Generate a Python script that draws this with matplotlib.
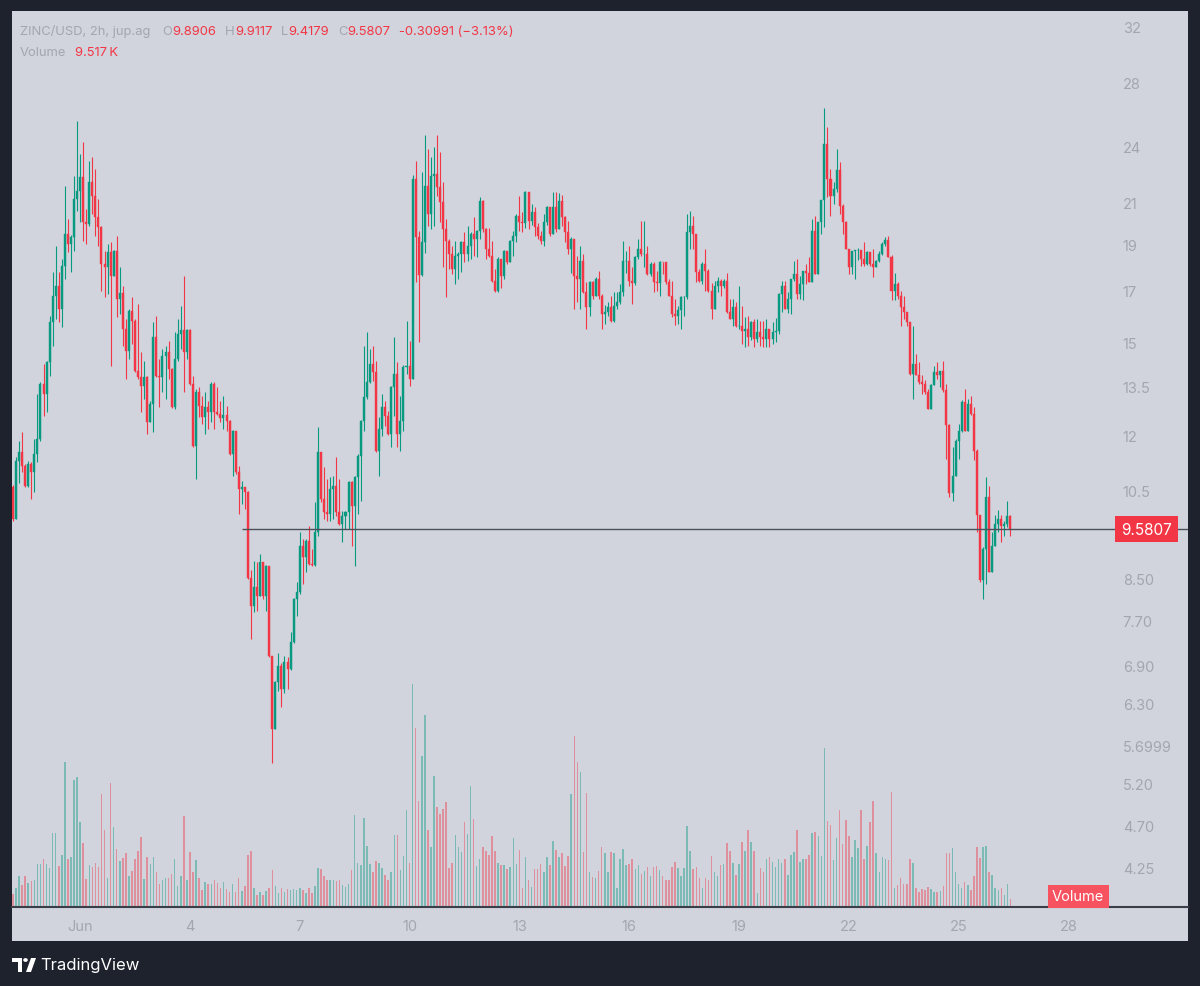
import numpy as np
import pandas as pd
import matplotlib.pyplot as plt
import matplotlib.transforms as mtransforms
from matplotlib.patches import Rectangle, Circle, Polygon
from matplotlib.ticker import NullLocator

plt.rcParams['font.family'] = ['Inter', 'DejaVu Sans']

# 2h candles, ZINC/USD (jup.ag)
first_open = 10.6
closes = [
    9.82, 11.29, 11.53, 11.16, 10.63, 11.2, 10.99, 11.48, 11.9, 13.58,
    13.26, 14.3, 15.76, 16.77, 17.18, 16.26, 18.03, 19.47, 19.01, 19.33,
    21.18, 21.58, 22.33, 20.03, 19.94, 22.06, 21.33, 20.28, 19.8, 18.1,
    17.98, 18.64, 17.6, 18.69, 16.65, 16.9, 15.5, 14.7, 16.18, 15.8,
    14.0, 13.82, 13.52, 13.82, 12.4, 12.95, 15.2, 13.85, 13.8, 14.52,
    14.66, 14.08, 12.85, 14.42, 15.3, 15.46, 14.66, 15.46, 13.58, 11.7,
    13.33, 12.88, 12.55, 12.85, 12.7, 13.58, 12.7, 12.64, 12.5, 12.6,
    12.43, 11.48, 12.13, 10.99, 10.55, 10.6, 10.47, 8.52,
    7.97, 8.34, 8.16, 8.86, 8.16, 8.76, 7.07, 5.93, 6.64, 6.9,
    6.53, 6.97, 6.85, 7.31, 8.1, 8.24, 9.2, 8.96, 9.3, 8.81,
    8.8, 9.52, 11.53, 10.3, 9.98, 9.94, 10.55, 10.63, 9.98, 9.7,
    9.89, 9.98, 10.73, 10.13, 10.86, 11.43, 12.43, 13.16, 13.65, 14.25,
    13.98, 11.56, 12.19, 12.85, 12.58, 12.04, 13.48, 13.91, 12.04, 12.43,
    14.15, 14.18, 13.75, 22.22,
    19.33, 17.64, 19.1, 21.85, 20.4, 22.38, 22.48, 21.8, 21.0, 19.7,
    19.15, 18.55, 17.9, 18.46, 18.55, 19.1, 18.55, 18.92, 19.47, 19.24,
    19.6, 21.08, 19.7, 18.78, 18.46, 17.4, 16.98, 18.33, 17.6, 18.69,
    18.2, 19.15, 19.38, 20.33, 20.03, 20.0, 21.53, 20.08, 20.52, 19.8,
    19.38, 19.15, 20.03, 20.77, 19.47, 20.77, 19.7, 21.08, 20.28, 19.56,
    18.78, 19.24, 17.6, 17.47, 18.25, 16.94, 16.33, 17.35, 16.77, 17.47,
    16.77, 16.07, 16.13, 16.33, 15.8, 16.37, 16.53, 16.94, 18.25, 18.25,
    17.4, 17.3, 18.42, 18.78, 18.55, 18.55, 17.68, 18.1, 17.35, 17.3,
    18.2, 18.18, 17.35, 16.77, 16.07, 15.99, 16.2, 16.73, 16.73, 19.56,
    19.85, 19.47, 17.77, 17.4, 18.1, 17.81, 16.98, 16.26, 17.18, 17.4,
    17.18, 17.4, 16.13, 15.87, 16.33, 15.6, 15.6, 15.43, 15.5, 15.2,
    15.76, 15.13, 15.39, 15.2, 15.13, 15.5, 15.13, 15.39, 15.4,
    16.86, 17.19, 16.26, 16.65, 17.47, 17.68, 16.86, 17.26, 17.81, 17.74,
    17.33, 19.62, 17.68, 20.01, 21.1, 24.16, 22.22, 21.34, 21.69, 22.67,
    20.84, 20.01, 18.78, 17.96, 18.7, 18.72, 18.75, 18.33, 18.1, 18.63,
    18.1, 17.96, 18.25, 18.55, 19.01, 19.2, 18.4, 16.98, 17.26, 16.79,
    16.33, 16.13, 15.74, 13.91, 14.25, 13.86, 13.64, 13.58, 13.31, 12.79,
    13.53, 13.98, 13.86, 14.0, 13.37, 12.29, 10.46, 10.89, 11.85, 12.14,
    13.0, 12.14, 12.95, 12.64, 11.57, 9.9, 8.47, 9.14, 10.34, 8.64,
    9.21, 9.7, 9.82, 9.66, 9.7, 9.8906, 9.5807,
]
highs = [
    10.65, 11.4, 11.85, 12.1, 11.2, 11.29, 11.25, 11.9, 13.26, 13.65,
    14.25, 14.35, 15.99, 17.77, 18.92, 17.77, 18.33, 21.85, 20.18, 19.4,
    22.38, 25.5, 23.6, 24.27, 20.67, 23.2, 23.4, 22.76, 21.18, 19.85,
    18.69, 19.01, 19.1, 18.75, 19.38, 17.98, 17.18, 15.87, 16.26, 16.73,
    15.85, 16.45, 14.66, 14.35, 13.85, 13.04, 15.76, 15.99, 14.42, 14.77,
    14.88, 15.06, 14.1, 15.39, 15.87, 16.37, 17.6, 15.5, 15.5, 13.85,
    13.42, 13.48, 13.2, 13.33, 13.04, 13.65, 13.65, 13.48, 13.04, 13.2,
    12.88, 12.45, 12.15, 11.96, 11.16, 10.76, 10.6, 10.5,
    8.68, 8.88, 8.86, 9.03, 8.86, 8.8, 8.76, 7.07, 6.66, 7.12,
    6.95, 7.07, 7.05, 7.49, 8.12, 8.44, 9.52, 9.36, 9.36, 9.66,
    9.14, 10.23, 12.25, 11.53, 11.12, 10.81, 10.86, 10.88, 11.4, 10.81,
    10.01, 10.0, 10.75, 10.75, 10.88, 11.48, 12.45, 14.88, 15.39, 14.77,
    14.88, 14.35, 12.55, 13.26, 13.04, 12.72, 13.5, 15.19, 14.32, 13.2,
    14.2, 15.8, 15.06, 22.4,
    23.2, 19.6, 22.6, 24.69, 23.88, 23.4, 24.0, 24.69, 23.7, 22.06,
    20.18, 19.24, 18.9, 19.15, 18.65, 19.15, 19.56, 19.85, 19.55, 20.28,
    19.65, 21.28, 21.1, 19.75, 19.75, 19.15, 17.9, 18.4, 18.33, 18.75,
    18.7, 19.2, 19.6, 20.4, 21.33, 20.5, 21.6, 21.55, 20.9, 20.77,
    20.0, 19.6, 20.4, 20.8, 20.67, 21.53, 21.53, 21.48, 21.35, 20.3,
    20.08, 19.3, 19.25, 18.46, 18.92, 18.55, 17.35, 17.4, 17.4, 17.55,
    17.81, 16.86, 16.4, 16.52, 16.79, 16.94, 16.94, 17.26, 19.15, 18.7,
    18.92, 17.96, 18.45, 19.24, 20.08, 20.08, 18.92, 18.2, 18.2, 17.81,
    18.25, 18.2, 18.2, 17.47, 17.4, 16.65, 16.39, 16.79, 16.79, 20.4,
    20.57, 20.3, 19.47, 17.9, 18.2, 18.78, 17.9, 17.3, 17.4, 17.55,
    17.47, 17.45, 17.74, 16.65, 16.65, 16.52, 17.19, 16.39, 15.93, 15.99,
    15.8, 15.87, 15.87, 15.8, 15.8, 15.87, 15.5, 15.76, 15.9,
    16.9, 17.4, 17.4, 16.92, 17.47, 18.25, 18.33, 17.6, 17.81, 18.1,
    18.4, 20.18, 20.34, 20.01, 21.1, 26.37, 25.15, 22.76, 22.04, 23.88,
    23.12, 20.93, 20.09, 18.78, 18.7, 18.72, 18.8, 18.75, 19.08, 18.7,
    18.63, 18.78, 18.3, 18.7, 19.08, 19.3, 19.35, 18.5, 17.74, 17.33,
    16.98, 16.79, 16.13, 15.74, 15.62, 14.6, 14.31, 13.86, 13.7, 13.42,
    13.58, 14.19, 14.31, 14.0, 14.36, 13.58, 12.34, 11.66, 11.9, 12.34,
    13.05, 13.42, 13.1, 13.2, 12.84, 11.62, 9.9, 9.18, 10.85, 10.63,
    9.51, 9.9, 10.02, 9.9, 9.78, 10.26, 9.9117,
]
lows = [
    9.78, 9.9, 10.7, 11.0, 10.6, 10.6, 10.3, 10.47, 11.26, 11.85,
    12.58, 12.7, 13.85, 14.88, 15.87, 15.76, 15.57, 17.47, 18.64, 17.77,
    18.69, 20.57, 20.03, 19.15, 19.01, 19.85, 20.4, 19.38, 18.92, 16.98,
    16.73, 16.86, 14.18, 17.6, 15.95, 16.07, 14.88, 13.75, 14.42, 14.95,
    13.98, 13.75, 12.7, 13.1, 12.04, 12.38, 12.1, 13.82, 12.85, 13.33,
    13.1, 13.75, 12.83, 12.79, 14.35, 14.77, 13.33, 14.42, 13.55, 11.67,
    10.81, 12.55, 12.34, 12.04, 12.19, 12.4, 12.19, 12.6, 12.4, 12.19,
    12.13, 11.46, 10.88, 10.94, 9.94, 10.18, 10.06, 8.5,
    7.36, 7.85, 7.87, 8.16, 8.1, 7.87, 7.05, 5.46, 5.93, 6.5,
    6.25, 6.47, 6.53, 6.83, 7.28, 7.78, 8.2, 8.4, 8.65, 8.78,
    8.77, 8.77, 9.43, 10.23, 9.82, 9.78, 9.78, 9.82, 9.89, 9.68,
    9.29, 9.59, 9.59, 9.2, 8.77, 9.94, 10.26, 12.13, 13.1, 13.6,
    13.68, 11.53, 10.88, 11.99, 12.28, 12.0, 11.67, 12.58, 11.67, 11.56,
    12.13, 13.91, 13.52, 13.75,
    17.35, 15.0, 17.6, 18.6, 19.85, 19.7, 19.85, 21.33, 20.03, 17.98,
    16.73, 17.9, 17.68, 17.26, 17.47, 17.77, 18.2, 18.25, 18.33, 18.46,
    18.42, 19.24, 19.56, 18.33, 18.4, 17.35, 16.95, 16.95, 17.1, 17.47,
    18.1, 18.18, 18.46, 19.1, 19.6, 19.55, 19.75, 19.7, 19.9, 19.38,
    19.24, 19.0, 18.92, 19.9, 19.38, 19.47, 19.56, 19.7, 19.85, 19.08,
    18.55, 17.74, 16.26, 16.53, 16.26, 16.9, 15.5, 15.99, 16.65, 16.75,
    16.65, 15.5, 15.68, 15.99, 15.74, 15.74, 16.26, 16.45, 16.79, 17.74,
    17.19, 16.45, 17.2, 18.33, 18.46, 17.96, 17.65, 17.6, 16.92, 16.98,
    16.79, 17.68, 17.26, 16.75, 15.95, 15.65, 15.68, 15.5, 15.99, 16.65,
    18.78, 18.78, 17.35, 17.35, 17.26, 16.98, 16.95, 15.87, 16.26, 16.92,
    16.79, 17.1, 16.1, 15.85, 15.62, 15.58, 15.5, 14.95, 14.85, 14.88,
    15.1, 14.85, 15.0, 14.88, 14.85, 14.85, 14.85, 14.95, 15.0,
    15.3, 16.13, 16.26, 16.1, 16.05, 17.4, 16.65, 16.65, 16.6, 17.26,
    17.33, 17.68, 17.68, 18.78, 19.47, 19.78, 21.26, 20.34, 20.93, 21.52,
    20.42, 19.47, 18.78, 17.68, 17.68, 17.47, 18.3, 18.03, 18.03, 18.05,
    18.03, 17.54, 18.0, 18.2, 18.5, 18.9, 18.4, 16.6, 16.6, 16.65,
    15.62, 15.87, 15.62, 13.86, 13.1, 13.86, 13.58, 13.26, 13.26, 12.79,
    12.79, 13.53, 13.75, 13.48, 13.31, 11.34, 10.34, 10.26, 10.89, 11.34,
    12.1, 12.14, 12.14, 12.59, 11.3, 9.51, 8.44, 8.1, 8.4, 8.64,
    8.64, 9.21, 9.51, 9.28, 9.43, 9.62, 9.4179,
]
# volume in thousands
volumes = [
    16, 24, 39, 27, 39, 30, 32, 33, 53, 53,
    59, 53, 49, 92, 92, 51, 64, 180, 60, 62,
    158, 161, 105, 80, 35, 52, 50, 55, 50, 140,
    95, 36, 154, 99, 72, 57, 61, 67, 38, 45,
    60, 69, 87, 35, 62, 53, 62, 44, 28, 33,
    36, 36, 41, 59, 26, 38, 113, 33, 68, 43,
    58, 36, 21, 31, 29, 29, 34, 30, 23, 31,
    22, 19, 28, 19, 36, 20, 26, 64, 70, 24,
    15, 19, 15, 20, 24, 46, 26, 18, 23, 19,
    22, 21, 22, 21, 23, 21, 17, 24, 18, 26,
    48, 47, 38, 34, 33, 33, 32, 33, 27, 25,
    28,
    46, 114, 55, 52, 111, 76, 54, 44, 57, 55,
    48, 40, 34, 43, 89, 90, 46, 63, 120, 55,
    277, 222, 132, 188, 239, 96, 74, 163, 124, 116,
    122, 130, 49, 55, 89, 75, 68, 105, 91, 150,
    109, 51, 59, 75, 69, 65, 88, 70, 55, 52,
    52, 47, 50, 86, 53, 71, 24, 62, 34, 25,
    47, 47, 54, 44, 62, 52, 82, 71, 62, 67,
    51, 63, 140, 212, 180, 167, 68, 142, 43, 37,
    36, 45, 74, 67, 43, 68, 67, 24, 59, 72,
    52, 54, 60, 47, 52, 41, 45, 50, 38, 50,
    51, 46, 38, 34, 34, 50, 56, 49,
    38, 49, 101, 69, 47, 50, 36, 24, 36, 34,
    63, 44, 39, 52, 54, 79, 70, 55, 40, 54,
    81, 69, 96, 81, 69, 17, 48, 43, 59, 62,
    56, 50, 60, 55, 60, 40, 64, 68, 96, 56,
    59, 60, 65, 92, 93, 88, 63, 198, 107, 102,
    58, 86, 121, 78, 108, 88, 62, 83, 73, 120,
    60, 76, 105, 132, 67, 44, 62, 60, 58, 143,
    24, 27, 36, 29, 29, 59, 55, 24, 19, 22,
    21, 25, 22, 19, 19, 20, 26, 67, 67, 73,
    43, 29, 24, 31, 27, 21, 38, 74, 61, 74,
    76, 43, 40, 24, 21, 24, 15, 28, 9.517,
]
last_change = '-0.30991'
last_change_pct = '\u22123.13%'

price_ticks = [32, 28, 24, 21, 19, 17, 15, 13.5, 12, 10.5, 8.5, 7.7, 6.9, 6.3, 5.6999, 5.2, 4.7, 4.25]
price_labels = ['32', '28', '24', '21', '19', '17', '15', '13.5', '12', '10.5',
                '8.50', '7.70', '6.90', '6.30', '5.6999', '5.20', '4.70', '4.25']
day_dates = ['2024-06-01', '2024-06-04', '2024-06-07', '2024-06-10', '2024-06-13',
             '2024-06-16', '2024-06-19', '2024-06-22', '2024-06-25', '2024-06-28']
day_labels = ['Jun', '4', '7', '10', '13', '16', '19', '22', '25', '28']
line_start = pd.Timestamp('2024-06-05 10:00')

n = len(closes)
opens = [first_open] + closes[:-1]
times = pd.date_range('2024-05-30 04:00', periods=n, freq='2h')
step = pd.Timedelta('2h')
x = np.arange(n)
o = np.array(opens)
c = np.array(closes)
hi = np.maximum(np.array(highs), np.maximum(o, c))
lo = np.minimum(np.array(lows), np.minimum(o, c))
up = c >= o

GREEN = '#089981'
RED = '#F23645'
BG = '#D1D4DC'
DARK = '#1E222D'
GREY_TXT = '#A3A6AF'

W, H = 1200, 987
fig = plt.figure(figsize=(W / 100, H / 100), dpi=100)
fig.patch.set_facecolor(DARK)
fig.patches.append(Rectangle((12 / W, 1 - 942 / H), 1176 / W, 930 / H,
                             transform=fig.transFigure, facecolor=BG,
                             edgecolor='none', zorder=-5))

rect = [12 / W, 1 - 908 / H, 1176 / W, 896 / H]
xlim = (-0.33, 385.2)

# volume underneath
vax = fig.add_axes(rect)
vax.patch.set_visible(False)
vax.bar(x, volumes, width=0.5, color=np.where(up, GREEN, RED), alpha=0.42, linewidth=0)
vax.set_xlim(*xlim)
vax.set_ylim(0, max(volumes) / 0.249)
vax.axis('off')

# candles
ax = fig.add_axes(rect)
ax.patch.set_visible(False)
ax.set_yscale('log')
cols = np.where(up, GREEN, RED)
ax.vlines(x, lo, hi, colors=cols, linewidth=0.8)
ax.bar(x, np.abs(c - o), bottom=np.minimum(o, c), width=0.66, color=cols,
       edgecolor=cols, linewidth=0.3)
ax.set_xlim(*xlim)
ax.set_ylim(3.866, 33.25)

# last price line + tag
x0 = (line_start - times[0]) / step
ax.hlines(closes[-1], x0, xlim[1], color='#4C505B', linewidth=1)
trans = mtransforms.blended_transform_factory(ax.transAxes, ax.transData)
ax.text(0.9647, closes[-1], f'{closes[-1]:.4f}', transform=trans, ha='center', va='center',
        color='white', fontsize=11,
        bbox=dict(boxstyle='square,pad=0.38', fc=RED, ec='none'))
ax.text(0.9065, 0.004, 'Volume', transform=ax.transAxes, ha='center', va='bottom',
        color='white', fontsize=10.5,
        bbox=dict(boxstyle='square,pad=0.3', fc='#F7525F', ec='none'))

# axes styling
ax.yaxis.tick_right()
ax.yaxis.set_minor_locator(NullLocator())
ax.set_yticks(price_ticks)
ax.set_yticklabels(price_labels)
ax.tick_params(axis='y', length=0, pad=-47, labelsize=10.5, labelcolor=GREY_TXT)
day_pos = [(pd.Timestamp(d) - times[0]) / step for d in day_dates]
ax.set_xticks(day_pos)
ax.set_xticklabels(day_labels)
ax.tick_params(axis='x', length=0, pad=9, labelsize=10.5, labelcolor=GREY_TXT)
for s in ['top', 'left', 'right']:
    ax.spines[s].set_visible(False)
ax.spines['bottom'].set_color('#3A3E49')
ax.spines['bottom'].set_linewidth(1.5)

# header legend
renderer = fig.canvas.get_renderer()


def row(parts, px, py, size=9.35):
    for txt, col, gap in parts:
        t = fig.text(px / W, 1 - py / H, txt, color=col, fontsize=size, va='center', ha='left')
        px += t.get_window_extent(renderer).width + gap


row([('ZINC/USD, 2h, jup.ag', GREY_TXT, 12),
     ('O', GREY_TXT, 0), (f'{opens[-1]:.4f}', RED, 9),
     ('H', GREY_TXT, 0), (f'{highs[-1]:.4f}', RED, 9),
     ('L', GREY_TXT, 0), (f'{lows[-1]:.4f}', RED, 9),
     ('C', GREY_TXT, 0), (f'{closes[-1]:.4f}', RED, 9),
     (f'{last_change} ({last_change_pct})', RED, 0)], 20, 32)
row([('Volume', GREY_TXT, 9), (f'{volumes[-1]:.3f}\u2009K', RED, 0)], 20, 53)


# TradingView mark
def fpt(px, py):
    return (px / W, 1 - py / H)


fig.patches.append(Polygon([fpt(12, 959), fpt(22, 959), fpt(22, 973), fpt(18, 973),
                            fpt(18, 963), fpt(12, 963)], closed=True,
                           transform=fig.transFigure, fc='white', ec='none'))
fig.patches.append(Circle(fpt(25.5, 961), 2.3 / W, transform=fig.transFigure, fc='white', ec='none'))
fig.patches.append(Polygon([fpt(31, 959), fpt(36, 959), fpt(31, 973), fpt(26, 973)], closed=True,
                           transform=fig.transFigure, fc='white', ec='none'))
fig.text(40 / W, 1 - 966 / H, 'TradingView', color='white', fontsize=12, va='center', ha='left')

fig.savefig('out.png', dpi=100, facecolor=DARK)
